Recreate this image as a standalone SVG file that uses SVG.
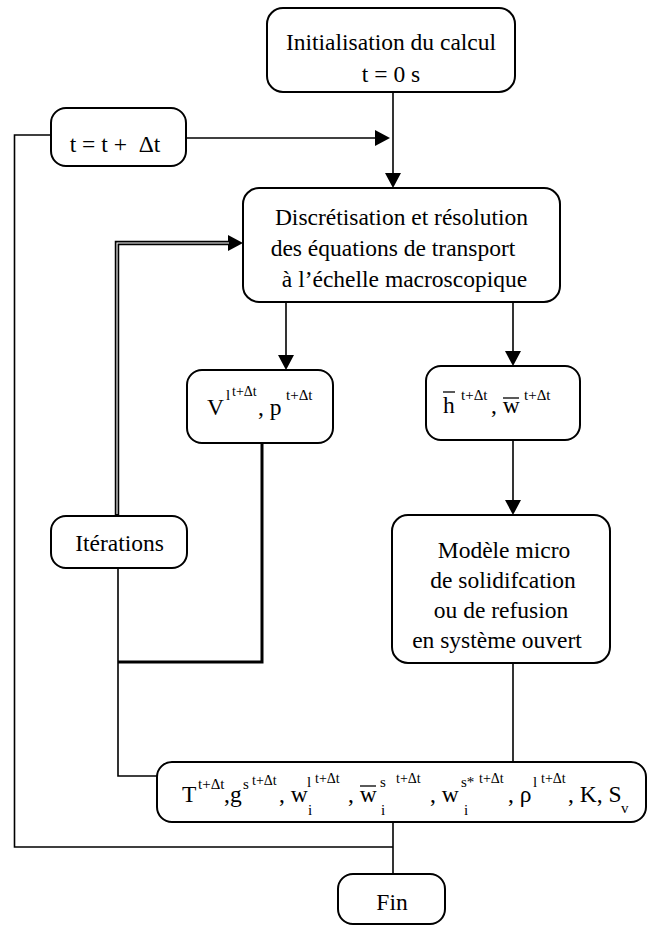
<svg xmlns="http://www.w3.org/2000/svg" width="650" height="928" viewBox="0 0 650 928">
<style>
.box{fill:#fff;stroke:#000;stroke-width:2}
.ln{fill:none;stroke:#000;stroke-width:1.6}
.thick{fill:none;stroke:#000;stroke-width:3}
.dblo{fill:none;stroke:#000;stroke-width:4.5}
.dbli{fill:none;stroke:#fff;stroke-width:1.1}
.bar{stroke:#000;stroke-width:1.3}
text{font-family:"Liberation Serif","Times New Roman",serif;font-size:23.5px;fill:#000}
.c{text-anchor:middle}
.s{font-size:15px}
.s2{font-size:14px}
</style>
<defs>
<marker id="ah" viewBox="0 0 15 16" markerWidth="15" markerHeight="16" refX="0" refY="8" orient="auto" markerUnits="userSpaceOnUse">
<path d="M0,0 L15,8 L0,16 z" fill="#000"/>
</marker>
</defs>
<g id="connectors">
<path class="ln" d="M393,92 V173" marker-end="url(#ah)"/>
<path class="ln" d="M186,138 H375" marker-end="url(#ah)"/>
<path class="ln" d="M286,302 V355" marker-end="url(#ah)"/>
<path class="ln" d="M513,302 V351" marker-end="url(#ah)"/>
<path class="ln" d="M513,440 V500" marker-end="url(#ah)"/>
<path class="ln" d="M513,663 V762"/>
<path class="ln" d="M118,568 V776 H157"/>
<path class="thick" d="M262,443 V662 H118"/>
<path class="dblo" d="M117,516 V243 H228" marker-end="url(#ah)"/>
<path class="dbli" d="M117,514 V243 H229"/>
<path class="ln" d="M51,135 H14.5 V847 H393"/>
<path class="ln" d="M393,822 V874"/>
</g>
<g id="init">
<rect class="box" x="267" y="8" width="248" height="84" rx="16"/>
<text class="c" x="391" y="50">Initialisation du calcul</text>
<text class="c" x="391" y="82">t = 0 s</text>
</g>
<g id="increment">
<rect class="box" x="51" y="108" width="135" height="58" rx="15"/>
<text class="c" x="115" y="152" xml:space="preserve">t = t +  Δt</text>
</g>
<g id="discretisation">
<rect class="box" x="243" y="188" width="317" height="114" rx="16"/>
<text class="c" x="401.5" y="225">Discrétisation et résolution</text>
<text class="c" x="393" y="256">des équations de transport</text>
<text class="c" x="404.5" y="287">à l’échelle macroscopique</text>
</g>
<g id="vitesse">
<rect class="box" x="187" y="370" width="146" height="73" rx="15"/>
<text x="207" y="415">V</text>
<text class="s" x="226" y="400">l</text>
<text class="s2" x="232" y="396">t+Δt</text>
<text x="258" y="415">, p</text>
<text class="s" x="286" y="400">t+Δt</text>
</g>
<g id="enthalpie">
<rect class="box" x="426" y="366" width="154" height="74" rx="15"/>
<text x="443" y="413">h</text>
<line class="bar" x1="443" y1="392" x2="455" y2="392"/>
<text class="s" x="461" y="400">t+Δt</text>
<text x="491" y="413">, w</text>
<line class="bar" x1="503" y1="398" x2="519" y2="398"/>
<text class="s" x="524" y="400">t+Δt</text>
</g>
<g id="iterations">
<rect class="box" x="51" y="516" width="136" height="52" rx="15"/>
<text class="c" x="119.5" y="551">Itérations</text>
</g>
<g id="modele">
<rect class="box" x="392" y="515" width="218" height="148" rx="16"/>
<text class="c" x="504" y="558">Modèle micro</text>
<text class="c" x="503" y="588">de solidifcation</text>
<text class="c" x="501" y="618">ou de refusion</text>
<text class="c" x="497" y="648">en système ouvert</text>
</g>
<g id="resultats">
<rect class="box" x="157" y="762" width="489" height="60" rx="15"/>
<text x="182" y="802">T</text>
<text class="s" x="198" y="789">t+Δt</text>
<text x="224" y="802">,g</text>
<text class="s" x="243" y="789">s</text>
<text class="s2" x="252" y="785">t+Δt</text>
<text x="279" y="802">, w</text>
<text class="s" x="308" y="815">i</text>
<text class="s" x="307" y="787">l</text>
<text class="s2" x="315" y="783">t+Δt</text>
<text x="348" y="802">, w</text>
<line class="bar" x1="360" y1="786" x2="376" y2="786"/>
<text class="s" x="381" y="815">i</text>
<text class="s" x="380" y="787">s</text>
<text class="s2" x="396" y="783">t+Δt</text>
<text x="430" y="802">, w</text>
<text class="s" x="464" y="815">i</text>
<text class="s" x="461" y="787">s*</text>
<text class="s2" x="479" y="783">t+Δt</text>
<text x="508" y="802">, ρ</text>
<text class="s" x="533" y="787">l</text>
<text class="s2" x="541" y="783">t+Δt</text>
<text x="568" y="802">, K, S</text>
<text class="s" x="621" y="813">v</text>
</g>
<g id="fin">
<rect class="box" x="338" y="874" width="107" height="50" rx="15"/>
<text class="c" x="392" y="910">Fin</text>
</g>
</svg>
